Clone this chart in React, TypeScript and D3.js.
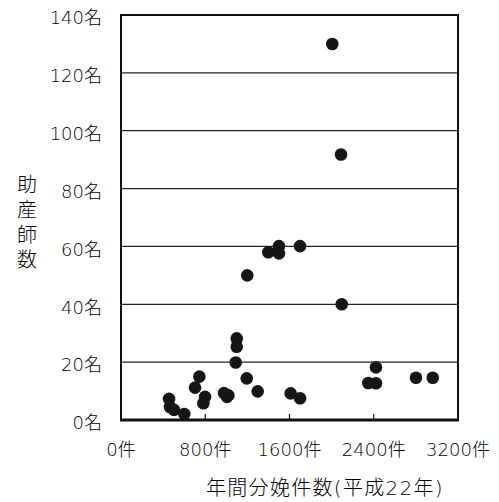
import React from 'react';
import * as d3 from 'd3';

// annual births (x) vs midwives (y)
const births = [456, 465, 503, 601, 703, 744, 782, 798, 978, 1006, 1020, 1099, 1099, 1089, 1194, 1199, 1298, 1399, 1500, 1500, 1700, 1611, 1700, 2006, 2089, 2096, 2421, 2348, 2421, 2801, 2960];
const midwives = [7.3, 4.5, 3.5, 2.1, 11.2, 15.0, 5.8, 8.0, 9.3, 8.0, 8.5, 28.2, 25.3, 19.9, 14.4, 50.0, 9.9, 58.0, 60.1, 57.6, 60.1, 9.2, 7.5, 130, 91.8, 40, 18.2, 12.8, 12.7, 14.6, 14.6];

const yTicks = [0, 20, 40, 60, 80, 100, 120, 140];
const xTicks = [0, 800, 1600, 2400, 3200];
const yLabelChars = ['助', '産', '師', '数'];
const xTitle = '年間分娩件数(平成22年)';

const W = 499;
const H = 502;
const margin = { top: 15, right: 41, bottom: 82, left: 121 };

const App: React.FC = () => {
  const x = d3.scaleLinear().domain([0, 3200]).range([margin.left, W - margin.right]);
  const y = d3.scaleLinear().domain([0, 140]).range([H - margin.bottom, margin.top]);
  const font = '"DejaVu Sans", "Noto Sans CJK JP", sans-serif';

  return (
    <svg width={W} height={H} style={{ position: 'absolute', left: 0, top: 0, background: '#fff' }}>
      {/* grid */}
      {yTicks.slice(1, -1).map(t => (
        <line key={t} x1={x(0)} x2={x(3200)} y1={y(t)} y2={y(t)} stroke="#222" strokeWidth={1.2} />
      ))}
      {/* frame */}
      <rect x={x(0)} y={y(140)} width={x(3200) - x(0)} height={y(0) - y(140)} fill="none" stroke="#111" strokeWidth={2} />
      <line x1={x(0) - 1} x2={x(3200) + 1} y1={y(0)} y2={y(0)} stroke="#111" strokeWidth={3} />
      {xTicks.slice(1, -1).map(t => (
        <line key={t} x1={x(t)} x2={x(t)} y1={y(0)} y2={y(0) - 6} stroke="#111" strokeWidth={1.2} />
      ))}

      {/* dots */}
      {births.map((b, i) => (
        <circle key={i} cx={x(b)} cy={y(midwives[i])} r={6.3} fill="#161616" />
      ))}

      {/* y tick labels */}
      {yTicks.map(t => (
        <text key={t} x={102} y={y(t) + 3} dy="0.35em" textAnchor="end" fontFamily={font} fontWeight={300} fontSize={18} fill="#000">
          {t}名
        </text>
      ))}
      {/* x tick labels */}
      {xTicks.map(t => (
        <text key={t} x={x(t)} y={450} dy="0.35em" textAnchor="middle" fontFamily={font} fontWeight={300} fontSize={18} fill="#000">
          {t}件
        </text>
      ))}

      {/* y title */}
      {yLabelChars.map((c, i) => (
        <text key={c} x={27} y={185 + i * 25} dy="0.35em" textAnchor="middle" fontFamily={font} fontWeight={300} fontSize={20} fill="#000">
          {c}
        </text>
      ))}
      {/* x title */}
      <text x={325} y={488} dy="0.35em" textAnchor="middle" fontFamily={font} fontWeight={300} fontSize={20} letterSpacing={1.3} fill="#000">
        {xTitle}
      </text>
    </svg>
  );
};

export default App;
